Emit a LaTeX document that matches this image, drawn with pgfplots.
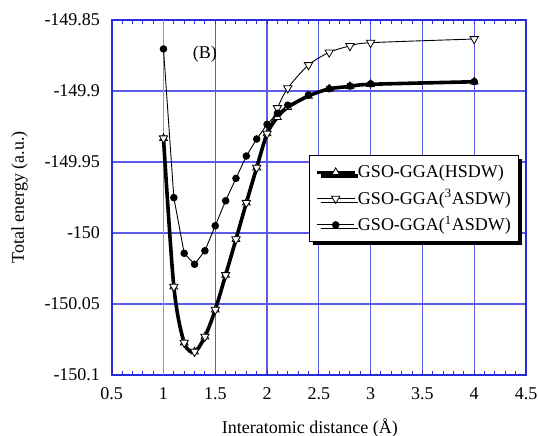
\documentclass[border=0pt]{standalone}
\usepackage{fontspec}
\setmainfont{Liberation Serif}
\usepackage{pgfplots}
\pgfplotsset{compat=1.18}
\usetikzlibrary{shadows}
\definecolor{gridblue}{RGB}{90,90,235}
\definecolor{frameblue}{RGB}{40,40,220}

\pgfplotstableread{
x      hsdw       asdw3      asdw1
1.0  -149.9333  -149.9333  -149.8704
1.1  -150.0378  -150.0378  -149.9751
1.2  -150.0772  -150.0772  -150.0143
1.3  -150.0836  -150.0836  -150.0220
1.4  -150.0730  -150.0730  -150.0125
1.5  -150.0540  -150.0540  -149.9949
1.6  -150.0296  -150.0296  -149.9773
1.7  -150.0044  -150.0044  -149.9615
1.8  -149.9787  -149.9787  -149.9458
1.9  -149.9540  -149.9540  -149.9338
2.0  -149.9300  -149.9300  -149.9235
2.1  -149.9185  -149.9120  -149.9157
2.2  -149.9115  -149.8980  -149.9100
2.4  -149.9035  -149.8817  -149.9028
2.6  -149.8985  -149.8728  -149.8984
2.8  -149.8968  -149.8683  -149.8965
3.0  -149.8953  -149.8660  -149.8950
4.0  -149.8935  -149.8634  -149.8934
}\data

\begin{document}
\begin{tikzpicture}[font=\fontsize{18bp}{21bp}\selectfont]
\path[use as bounding box] (-111.7bp,-61bp) rectangle (426.3bp,375bp);
\begin{axis}[
  scale only axis, width=414.3bp, height=355bp,
  xmin=0.5, xmax=4.5, ymin=-150.1, ymax=-149.85,
  xtick={0.5,1,1.5,2,2.5,3,3.5,4,4.5},
  xticklabels={0.5,1,1.5,2,2.5,3,3.5,4,4.5},
  ytick={-150.1,-150.05,-150,-149.95,-149.9,-149.85},
  yticklabels={-150.1,-150.05,-150,-149.95,-149.9,-149.85},
  minor x tick num=4,
  tick align=inside,
  major tick length=4bp, minor tick length=4bp,
  xtick style={draw=frameblue, line width=1bp},
  minor x tick style={draw=frameblue, line width=1bp},
  ytick style={draw=none},
  grid=major,
  major grid style={draw=gridblue, line width=1.3bp},
  axis line style={draw=frameblue, line width=1.8bp},
  xticklabel style={inner sep=0pt, yshift=-12bp, font=\fontsize{18bp}{21bp}\selectfont},
  yticklabel style={inner sep=0pt, xshift=-11.5bp, font=\fontsize{18bp}{21bp}\selectfont},
  xlabel={Interatomic distance (Å)},
  ylabel={Total energy (a.u.)},
  xlabel style={at={(axis description cs:0.4783,-0.1634)}, anchor=base, inner sep=0pt},
  ylabel style={at={(axis description cs:-0.2221,0.5)}, anchor=center, inner sep=0pt},
  legend style={at={(rel axis cs:0.476,0.620)}, anchor=north west,
    draw=black, line width=1bp, fill=white,
    drop shadow={shadow xshift=3.5bp, shadow yshift=-3.5bp, fill=black, opacity=1},
    inner xsep=6bp, inner ysep=8bp, row sep=8.3bp,
    cells={anchor=west, inner sep=0bp, text height=12.5bp, text depth=3.9bp},
    font=\fontsize{18bp}{21bp}\selectfont},
  legend image code/.code={\draw[mark repeat=2,mark phase=2] plot coordinates {(0bp,0bp) (18.5bp,0bp) (37bp,0bp)};},
  every odd column/.append style={column sep=4bp},
]
\draw[gray!80, line width=0.7bp] (axis cs:1,-150.1) -- (axis cs:1,-149.85);
\addplot[black, line width=3.6bp, smooth, mark=triangle*, mark size=4.5bp,
  mark options={solid, fill=white, draw=black, line width=0.8bp}]
  table[x=x, y=hsdw] {\data};
\addlegendentry{GSO-GGA(HSDW)}
\addplot[black, line width=0.9bp, smooth, mark=triangle*, mark size=4.8bp,
  mark options={solid, fill=white, draw=black, line width=0.8bp, rotate=180}]
  table[x=x, y=asdw3] {\data};
\addlegendentry{GSO-GGA(\textsuperscript{3}ASDW)}
\addplot[black, line width=0.9bp, mark=*, mark size=3.3bp,
  mark options={solid, fill=black}]
  table[x=x, y=asdw1] {\data};
\addlegendentry{GSO-GGA(\textsuperscript{1}ASDW)}
\node[anchor=center, inner sep=0pt] at (axis cs:1.40,-149.874) {(B)};
\end{axis}
\end{tikzpicture}
\end{document}
